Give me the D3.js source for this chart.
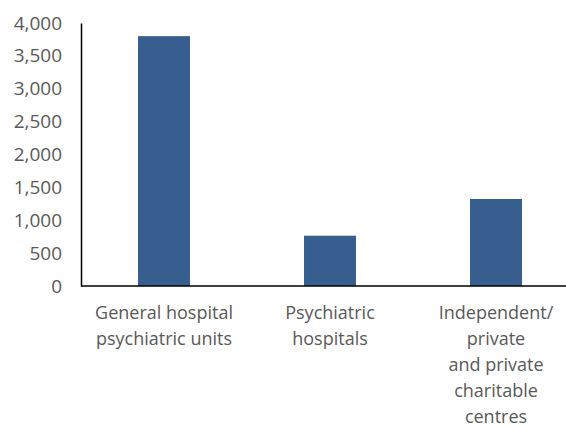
<!DOCTYPE html>
<html>
<head>
<meta charset="utf-8">
<script src="https://cdn.jsdelivr.net/npm/d3@7"></script>
<style>
  body { margin: 0; background: #fff; }
  text { font-family: "Open Sans", sans-serif; }
</style>
</head>
<body>
<div id="chart"></div>
<script>
// data
const categories = [
  ["General hospital", "psychiatric units"],
  ["Psychiatric", "hospitals"],
  ["Independent/", "private", "and private", "charitable", "centres"]
];
const values = [3800, 765, 1323];
const yTicks = [0, 500, 1000, 1500, 2000, 2500, 3000, 3500, 4000];

const W = 566, H = 427;
const x0 = 81, yBase = 286, yTop = 23;

const svg = d3.select("#chart")
  .append("svg")
  .attr("width", W)
  .attr("height", H);

const x = d3.scaleBand()
  .domain(d3.range(categories.length))
  .range([x0, x0 + 3 * 166])
  .paddingInner(0.687)
  .paddingOuter(0.3435);

const y = d3.scaleLinear()
  .domain([0, 4000])
  .range([yBase, yTop]);

// bars
svg.selectAll("rect.bar")
  .data(values)
  .enter()
  .append("rect")
  .attr("class", "bar")
  .attr("x", (d, i) => x(i))
  .attr("y", d => y(d))
  .attr("width", x.bandwidth())
  .attr("height", d => yBase - y(d))
  .attr("fill", "#365E8F");

// y axis
const yAxis = svg.append("g")
  .attr("transform", `translate(${x0},0)`)
  .call(d3.axisLeft(y).tickValues(yTicks).tickSize(0).tickPadding(19).tickFormat(d3.format(",")));
yAxis.select(".domain").attr("stroke", "#000").attr("stroke-width", 1.5);
yAxis.selectAll("text")
  .attr("fill", "#595959")
  .style("font-size", "19px")
  .style("font-family", "'Open Sans', sans-serif");

// x baseline
svg.append("line")
  .attr("x1", x0)
  .attr("x2", W)
  .attr("y1", yBase)
  .attr("y2", yBase)
  .attr("stroke", "#000")
  .attr("stroke-width", 1.5);

// category labels
const lab = svg.selectAll("text.cat")
  .data(categories)
  .enter()
  .append("text")
  .attr("class", "cat")
  .attr("text-anchor", "middle")
  .attr("fill", "#595959")
  .style("font-size", "18px");

lab.selectAll("tspan")
  .data((d, i) => d.map(s => ({ s, i })))
  .enter()
  .append("tspan")
  .attr("x", d => x(d.i) + x.bandwidth() / 2)
  .attr("y", (d, j) => 319 + j * 26)
  .text(d => d.s);
</script>
</body>
</html>
